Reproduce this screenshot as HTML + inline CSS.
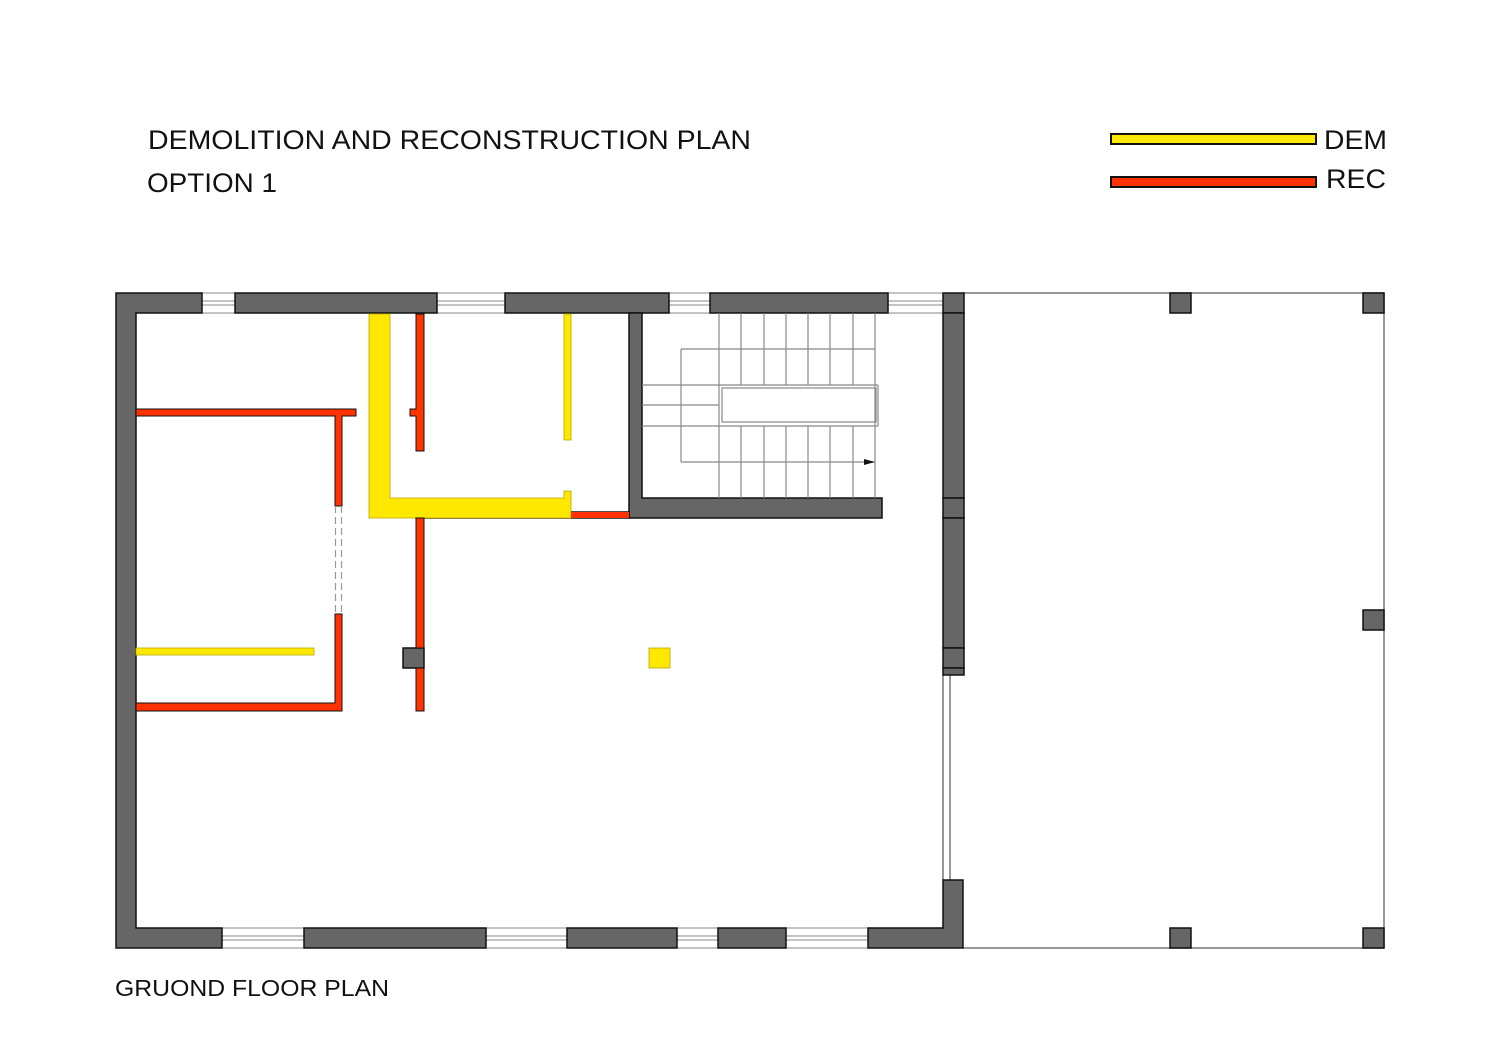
<!DOCTYPE html>
<html><head><meta charset="utf-8"><style>html,body{margin:0;padding:0;background:#fff}svg{display:block}</style></head>
<body>
<svg width="1500" height="1060" viewBox="0 0 1500 1060" xmlns="http://www.w3.org/2000/svg" font-family="Liberation Sans, sans-serif">
<rect width="1500" height="1060" fill="#fff"/>
<text x="148" y="149" font-size="27" fill="#111" textLength="603" lengthAdjust="spacingAndGlyphs">DEMOLITION AND RECONSTRUCTION PLAN</text>
<text x="147" y="192" font-size="27" fill="#111" textLength="130" lengthAdjust="spacingAndGlyphs">OPTION 1</text>
<rect x="1111" y="134" width="205" height="10" fill="#ffe800" stroke="#111" stroke-width="2"/>
<rect x="1111" y="177" width="205" height="10" fill="#ff3300" stroke="#111" stroke-width="2"/>
<text x="1324" y="149" font-size="27" fill="#111" textLength="63" lengthAdjust="spacingAndGlyphs">DEM</text>
<text x="1326" y="188" font-size="27" fill="#111" textLength="60" lengthAdjust="spacingAndGlyphs">REC</text>
<text x="115" y="996" font-size="23" fill="#111" textLength="274" lengthAdjust="spacingAndGlyphs">GRUOND FLOOR PLAN</text>

<g fill="none" stroke="#777" stroke-width="1.5">
<line x1="963" y1="293" x2="1384" y2="293"/>
<line x1="1384" y1="293" x2="1384" y2="948"/>
<line x1="963" y1="948" x2="1384" y2="948"/>
<line x1="943" y1="675" x2="943" y2="880"/>
<line x1="950" y1="675" x2="950" y2="880"/>
</g>

<g fill="#fff" stroke="#888" stroke-width="1">
<rect x="202" y="293" width="33" height="20"/><line x1="202" y1="301" x2="235" y2="301"/><line x1="202" y1="305" x2="235" y2="305"/>
<rect x="437" y="293" width="68" height="20"/><line x1="437" y1="301" x2="505" y2="301"/><line x1="437" y1="305" x2="505" y2="305"/>
<rect x="669" y="293" width="41" height="20"/><line x1="669" y1="301" x2="710" y2="301"/><line x1="669" y1="305" x2="710" y2="305"/>
<rect x="888" y="293" width="55" height="20"/><line x1="888" y1="301" x2="943" y2="301"/><line x1="888" y1="305" x2="943" y2="305"/>
<rect x="222" y="928" width="82" height="20"/><line x1="222" y1="936" x2="304" y2="936"/><line x1="222" y1="940" x2="304" y2="940"/>
<rect x="486" y="928" width="81" height="20"/><line x1="486" y1="936" x2="567" y2="936"/><line x1="486" y1="940" x2="567" y2="940"/>
<rect x="677" y="928" width="41" height="20"/><line x1="677" y1="936" x2="718" y2="936"/><line x1="677" y1="940" x2="718" y2="940"/>
<rect x="786" y="928" width="82" height="20"/><line x1="786" y1="936" x2="868" y2="936"/><line x1="786" y1="940" x2="868" y2="940"/>
</g>

<g fill="#666" stroke="#111" stroke-width="1.5">
<path d="M116 293H202V313H136V928H222V948H116Z"/>
<rect x="235" y="293" width="202" height="20"/>
<rect x="505" y="293" width="164" height="20"/>
<rect x="710" y="293" width="178" height="20"/>
<rect x="943" y="293" width="21" height="20"/>
<rect x="943" y="313" width="21" height="185"/>
<rect x="943" y="498" width="21" height="20"/>
<rect x="943" y="518" width="21" height="130"/>
<rect x="943" y="648" width="21" height="20"/>
<rect x="943" y="668" width="21" height="7"/>
<path d="M943 880H963V948H868V928H943Z"/>
<rect x="304" y="928" width="182" height="20"/>
<rect x="567" y="928" width="110" height="20"/>
<rect x="718" y="928" width="68" height="20"/>
<path d="M629 313H642V498H882V518H629Z"/>
<rect x="416" y="512" width="213" height="6"/>
<rect x="416" y="504" width="8" height="14"/>
<rect x="403" y="648" width="21" height="20"/>
<rect x="1170" y="293" width="21" height="20"/>
<rect x="1363" y="293" width="21" height="20"/>
<rect x="1363" y="610" width="21" height="20"/>
<rect x="1170" y="928" width="21" height="20"/>
<rect x="1363" y="928" width="21" height="20"/>
</g>

<g fill="none" stroke="#888" stroke-width="1.2">
<line x1="719" y1="313" x2="719" y2="385"/><line x1="741" y1="313" x2="741" y2="385"/><line x1="764" y1="313" x2="764" y2="385"/><line x1="786" y1="313" x2="786" y2="385"/><line x1="808" y1="313" x2="808" y2="385"/><line x1="830" y1="313" x2="830" y2="385"/><line x1="853" y1="313" x2="853" y2="385"/><line x1="875" y1="313" x2="875" y2="426"/>
<line x1="719" y1="426" x2="719" y2="498"/><line x1="741" y1="426" x2="741" y2="498"/><line x1="764" y1="426" x2="764" y2="498"/><line x1="786" y1="426" x2="786" y2="498"/><line x1="808" y1="426" x2="808" y2="498"/><line x1="830" y1="426" x2="830" y2="498"/><line x1="853" y1="426" x2="853" y2="498"/><line x1="875" y1="426" x2="875" y2="498"/>
<line x1="681" y1="349" x2="875" y2="349"/>
<line x1="681" y1="462" x2="875" y2="462"/>
<line x1="681" y1="349" x2="681" y2="462"/>
<line x1="642" y1="385" x2="878" y2="385"/>
<line x1="642" y1="405" x2="719" y2="405"/>
<line x1="642" y1="426" x2="878" y2="426"/>
<line x1="719" y1="385" x2="719" y2="426"/>
<line x1="878" y1="385" x2="878" y2="426"/>
<rect x="722" y="388" width="154" height="34"/>
</g>
<path d="M864 459L875 462L864 465Z" fill="#111"/>

<g fill="#ffe800" stroke="#b8a800" stroke-width="0.8">
<path d="M369 314H390V498H564V491H571V518H369Z"/>
<rect x="564" y="314" width="7" height="126"/>
<rect x="136" y="648" width="178" height="7"/>
<rect x="649" y="648" width="21" height="20"/>
</g>

<g fill="#ff3300" stroke="#111" stroke-width="1">
<path d="M136 409H356V416H342V506H335V416H136Z"/>
<path d="M335 614H342V711H136V703H335Z"/>
<path d="M416 314H424V451H416V416H410V409H416Z"/>
<rect x="416" y="518" width="8" height="130"/>
<rect x="416" y="668" width="8" height="43"/>
<rect x="571" y="512" width="58" height="6" stroke="none"/>
</g>
<g stroke="#999" stroke-width="1.2" stroke-dasharray="7,4">
<line x1="335.5" y1="506" x2="335.5" y2="614"/>
<line x1="341.5" y1="506" x2="341.5" y2="614"/>
</g>
</svg>
</body></html>
